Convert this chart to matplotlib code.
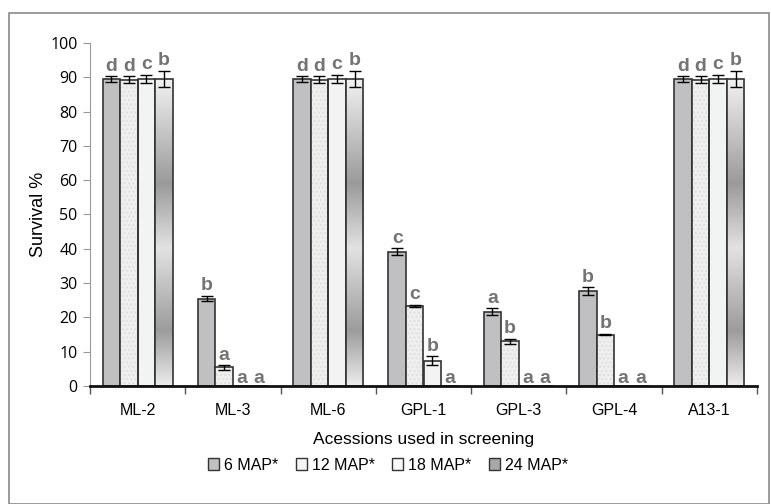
import numpy as np
import matplotlib.pyplot as plt
from matplotlib.patches import Rectangle
from matplotlib.colors import LinearSegmentedColormap

plt.rcParams['font.family'] = ['Liberation Sans', 'DejaVu Sans']

accessions = ['ML-2', 'ML-3', 'ML-6', 'GPL-1', 'GPL-3', 'GPL-4', 'A13-1']
series = ['6 MAP*', '12 MAP*', '18 MAP*', '24 MAP*']

map6 = [89.5, 25.5, 89.5, 39.2, 21.6, 27.6, 89.5]
map12 = [89.3, 5.4, 89.3, 23.3, 13.0, 15.0, 89.3]
map18 = [89.5, 0, 89.5, 7.4, 0, 0, 89.5]
map24 = [89.5, 0, 89.5, 0, 0, 0, 89.5]

err6 = [0.9, 0.8, 0.9, 1.0, 1.0, 1.2, 0.9]
err12 = [1.1, 0.7, 1.1, 0.4, 0.8, 0.2, 1.1]
err18 = [1.3, 0, 1.3, 1.3, 0, 0, 1.3]
err24 = [2.4, 0, 2.4, 0, 0, 0, 2.4]

let6 = ['d', 'b', 'd', 'c', 'a', 'b', 'd']
let12 = ['d', 'a', 'd', 'c', 'b', 'b', 'd']
let18 = ['c', 'a', 'c', 'b', 'a', 'a', 'c']
let24 = ['b', 'a', 'b', 'a', 'a', 'a', 'b']

values = [map6, map12, map18, map24]
errors = [err6, err12, err18, err24]
letters = [let6, let12, let18, let24]

fig = plt.figure(figsize=(7.71, 5.04), dpi=100)
ax = fig.add_axes([90 / 771, 118 / 504, 667 / 771, 343 / 504])

# outer frame of the chart area
fig.patches.append(Rectangle((9 / 771, 0), 760 / 771, 491 / 504, transform=fig.transFigure,
                             fill=False, edgecolor='#8a8a8a', linewidth=1.2))

x = np.arange(len(accessions)) + 0.5
w = 0.184
offsets = (np.arange(4) - 1.5) * w

grad = LinearSegmentedColormap.from_list('g', [(0, '#f2f2f2'), (0.34, '#9a9a9a'), (0.55, '#e2e2e2'),
                                               (0.82, '#9c9c9c'), (1, '#ececec')])
col = np.linspace(0, 1, 256).reshape(-1, 1)

for k in range(4):
    xs = x + offsets[k]
    v = values[k]
    if k == 0:
        ax.bar(xs, v, w, color='#c0c0c3', edgecolor='#333333', linewidth=1.2, zorder=2)
    elif k == 1:
        ax.bar(xs, v, w, color='#efefef', edgecolor='#e0e0e0', hatch='....', linewidth=0, zorder=2)
        ax.bar(xs, v, w, fill=False, edgecolor='#333333', linewidth=1.2, zorder=3)
    elif k == 2:
        ax.bar(xs, v, w, color='#f2f3f3', edgecolor='#333333', linewidth=1.2, zorder=2)
    else:
        bars = ax.bar(xs, v, w, color='none', edgecolor='#333333', linewidth=1.2, zorder=3)
        for b in bars:
            h = b.get_height()
            if h <= 0:
                continue
            im = ax.imshow(col, cmap=grad, aspect='auto', zorder=2,
                           extent=[b.get_x(), b.get_x() + w, 0, h], origin='upper')
            im.set_clip_path(b)
    ax.errorbar(xs, v, yerr=errors[k], fmt='none', ecolor='black', elinewidth=1,
                capsize=4, capthick=1, zorder=4)
    for xi, vi, ei, li in zip(xs, v, errors[k], letters[k]):
        yy = vi + ei + 0.4 if vi > 0 else -0.3
        ax.text(xi, yy, li, ha='center', va='bottom', fontsize=14, fontweight='bold',
                color='#747474', zorder=5)

ax.set_xlim(0, 7)
ax.set_ylim(0, 100)
ax.set_yticks(np.arange(0, 101, 10))
ax.set_yticklabels([str(t) for t in range(0, 101, 10)], family=['Open Sans', 'DejaVu Sans'])
ax.set_xticks(x)
ax.set_xticklabels(accessions, fontsize=11.5)
ax.set_xticks(np.arange(0, 8), minor=True)
ax.tick_params(axis='x', which='major', length=0, pad=12)
ax.tick_params(axis='x', which='minor', length=6, width=1, color='#555555', direction='out')
ax.tick_params(axis='y', labelsize=11.5, length=5, color='#999999', pad=4)

for s in ['top', 'right']:
    ax.spines[s].set_visible(False)
ax.spines['left'].set_color('#999999')
ax.spines['bottom'].set_color('#111111')
ax.spines['bottom'].set_linewidth(2)
ax.spines['bottom'].set_zorder(6)

ax.set_ylabel('Survival %', fontsize=13, labelpad=2)
ax.set_xlabel('Acessions used in screening', fontsize=12.5, labelpad=10)

handles = [Rectangle((0, 0), 1, 1, facecolor=c, edgecolor='#333333', linewidth=1)
           for c in ['#c0c0c3', '#f4f4f4', '#f8f8f8', '#a8a8a8']]
fig.legend(handles, series, loc='center', bbox_to_anchor=(388 / 771, 1 - 465 / 504), ncol=4,
           frameon=False, fontsize=11.5, handlelength=0.7, handleheight=0.7,
           handletextpad=0.3, columnspacing=1.1)

fig.savefig('out.png', dpi=100)
